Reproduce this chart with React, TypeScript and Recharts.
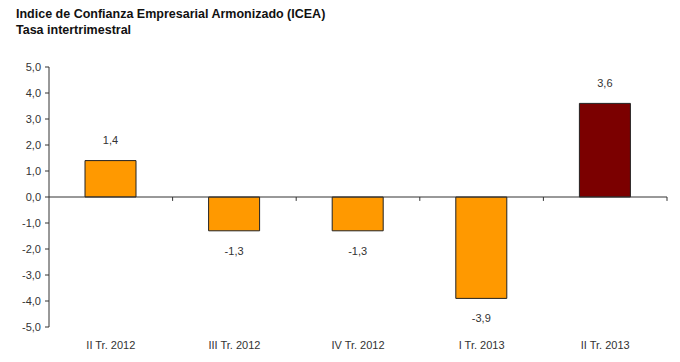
import React from "react";
import { BarChart, Bar, XAxis, YAxis, Cell, LabelList, ReferenceLine } from "recharts";

const categories = ["II Tr. 2012", "III Tr. 2012", "IV Tr. 2012", "I Tr. 2013", "II Tr. 2013"];
const values = [1.4, -1.3, -1.3, -3.9, 3.6];
const yTicks = [-5, -4, -3, -2, -1, 0, 1, 2, 3, 4, 5];
const barColors = ["#FF9900", "#FF9900", "#FF9900", "#FF9900", "#7B0000"];

const data = categories.map((c, i) => ({ name: c, value: values[i] }));

const fmt = (v: number) => v.toFixed(1).replace(".", ",");

const ValueLabel = (props: any) => {
  const { x, y, width, height, value } = props;
  const top = Math.min(y, y + height);
  const bottom = Math.max(y, y + height);
  const cx = x + width / 2;
  const cy = value >= 0 ? top - 20 : bottom + 20;
  return (
    <text x={cx} y={cy} dy="0.35em" textAnchor="middle" fontSize={11} fill="#333" fontFamily="Liberation Sans, Arial, sans-serif">
      {fmt(value)}
    </text>
  );
};

export default function App() {
  return (
    <div style={{ position: "absolute", left: 0, top: 0, width: 680, height: 362, background: "#fff", fontFamily: "Liberation Sans, Arial, sans-serif" }}>
      <div style={{ position: "absolute", left: 16, top: 6, fontSize: 12.5, fontWeight: "bold", color: "#111", lineHeight: "16px" }}>
        <div>Indice de Confianza Empresarial Armonizado (ICEA)</div>
        <div>Tasa intertrimestral</div>
      </div>
      <BarChart width={680} height={362} data={data} margin={{ top: 67, right: 13, bottom: 0, left: 0 }} barCategoryGap={0}>
        <XAxis dataKey="name" height={35} axisLine={false} tickLine={false} tickSize={0} tickMargin={14}
          tick={{ fontSize: 11, fill: "#333", fontFamily: "Liberation Sans, Arial, sans-serif" }} interval={0} />
        <YAxis domain={[-5, 5]} ticks={yTicks} width={49} interval={0} tickFormatter={fmt}
          axisLine={{ stroke: "#333" }} tickLine={{ stroke: "#333" }} tickSize={4} tickMargin={4}
          tick={{ fontSize: 11, fill: "#333", fontFamily: "Liberation Sans, Arial, sans-serif" }} />
        <ReferenceLine y={0} stroke="#333" strokeWidth={1} />
        {categories.map((c) => (
          <ReferenceLine key={c} position="end" ifOverflow="visible"
            segment={[{ x: c, y: 0 }, { x: c, y: -0.15 }]} stroke="#333" strokeWidth={1} />
        ))}
        <Bar dataKey="value" barSize={51} stroke="#222" strokeWidth={1} isAnimationActive={false}>
          {data.map((d, i) => (
            <Cell key={i} fill={barColors[i]} />
          ))}
          <LabelList dataKey="value" content={ValueLabel} />
        </Bar>
      </BarChart>
    </div>
  );
}
